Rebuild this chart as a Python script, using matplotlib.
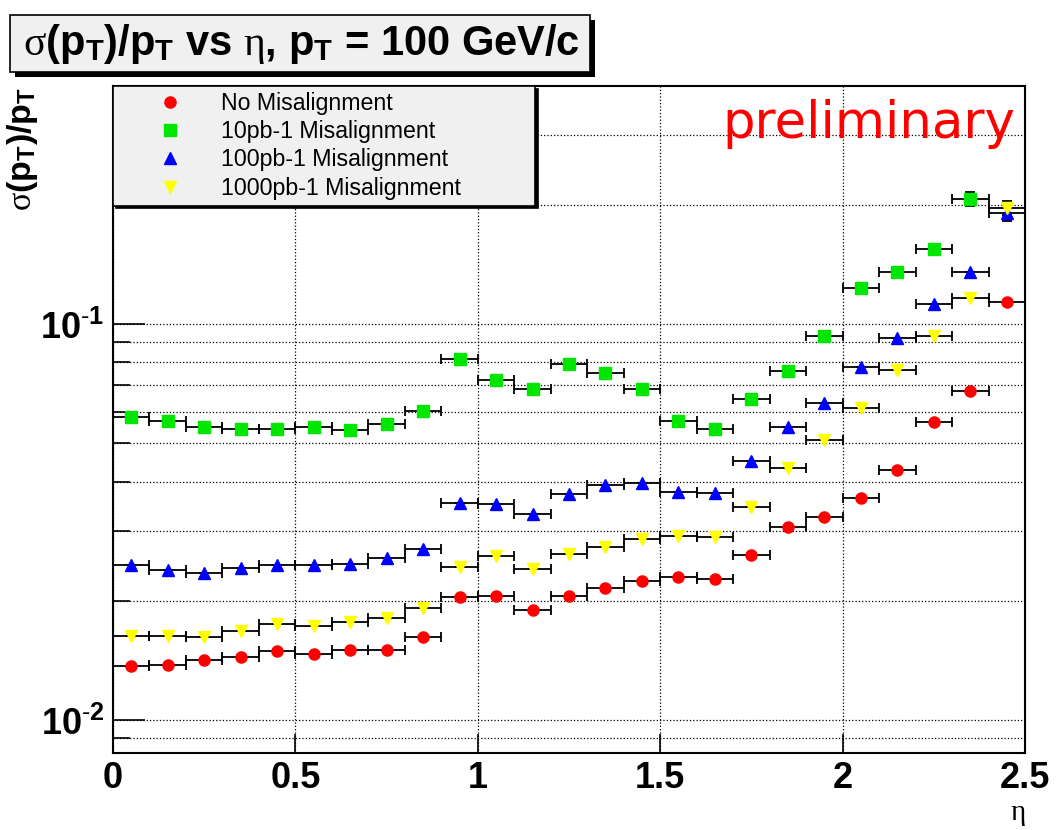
import numpy as np
import matplotlib
matplotlib.use('Agg')
import matplotlib.pyplot as plt
from matplotlib.lines import Line2D
from matplotlib.patches import Rectangle

plt.rcParams['mathtext.fontset'] = 'custom'
plt.rcParams['mathtext.rm'] = 'Liberation Sans'
plt.rcParams['mathtext.bf'] = 'Liberation Sans:bold'
plt.rcParams['mathtext.it'] = 'Liberation Serif'

# bins de eta (largura 0.1)
eta = np.arange(25) * 0.1 + 0.05
eta_err = np.full(25, 0.05)

no_mis = [0.0137, 0.0138, 0.0142, 0.0144, 0.0149, 0.0147, 0.0150, 0.0150, 0.0162,
          0.0204, 0.0206, 0.0189, 0.0205, 0.0215, 0.0224, 0.0230, 0.0227, 0.0261,
          0.0307, 0.0326, 0.0364, 0.0428, 0.0567, 0.0679, 0.1138]
mis_10 = [0.0583, 0.0568, 0.0549, 0.0543, 0.0544, 0.0549, 0.0540, 0.0559, 0.0603,
          0.0815, 0.0720, 0.0684, 0.0794, 0.0753, 0.0684, 0.0569, 0.0544, 0.0645,
          0.0760, 0.0933, 0.1235, 0.1355, 0.1550, 0.2070, np.nan]
mis_100 = [0.0246, 0.0239, 0.0235, 0.0242, 0.0246, 0.0246, 0.0248, 0.0257, 0.0270,
           0.0354, 0.0350, 0.0332, 0.0372, 0.0391, 0.0397, 0.0376, 0.0374, 0.0451,
           0.0548, 0.0633, 0.0780, 0.0920, 0.1122, 0.1350, 0.1910]
mis_1000 = [0.0163, 0.0163, 0.0162, 0.0168, 0.0175, 0.0173, 0.0177, 0.0181, 0.0192,
            0.0244, 0.0260, 0.0240, 0.0262, 0.0273, 0.0286, 0.0292, 0.0289, 0.0344,
            0.0433, 0.0509, 0.0615, 0.0765, 0.0934, 0.1163, 0.1960]

err_no = np.zeros(25)
err_10 = np.zeros(25); err_10[23] = 0.008
err_100 = np.zeros(25); err_100[24] = 0.009
err_1000 = np.zeros(25); err_1000[24] = 0.008

series = [
    ('No Misalignment', no_mis, err_no, 'o', 'red', 8),
    ('10pb-1 Misalignment', mis_10, err_10, 's', '#00e600', 8),
    ('100pb-1 Misalignment', mis_100, err_100, '^', 'blue', 8.5),
    ('1000pb-1 Misalignment', mis_1000, err_1000, 'v', 'yellow', 8),
]

xticks = [0, 0.5, 1, 1.5, 2, 2.5]
xtick_labels = ['0', '0.5', '1', '1.5', '2', '2.5']
yticks = [0.01, 0.1]
ytick_labels = [r'$\mathbf{10^{\text{-}2}}$', r'$\mathbf{10^{\text{-}1}}$']
yminor = [0.009, 0.02, 0.03, 0.04, 0.05, 0.06, 0.07, 0.08, 0.09, 0.2, 0.3]

W, H = 1058, 830
fig = plt.figure(figsize=(W / 100, H / 100), dpi=100)
ax = fig.add_axes([113 / W, (H - 753) / H, (1025 - 113) / W, (753 - 86) / H])

handles = []
for nome, vals, yerr, mk, cor, ms in series:
    ax.errorbar(eta, vals, xerr=eta_err, yerr=yerr, fmt=mk, color=cor, mec=cor,
                ms=ms, ecolor='black', elinewidth=1.3, capsize=3.5, capthick=1.3)
    handles.append(Line2D([], [], ls='none', marker=mk, color=cor, mec=cor, ms=ms))

ax.set_yscale('log')
ax.set_xlim(0, 2.5)
ax.set_ylim(0.00825, 0.399)

ax.set_xticks(xticks, labels=xtick_labels, fontsize=26, fontweight='bold',
              family='Liberation Sans')
ax.set_yticks(yticks, labels=ytick_labels, fontsize=26)
ax.set_yticks(yminor, minor=True)
ax.set_yticklabels([], minor=True)
ax.tick_params(axis='x', which='major', direction='in', length=14, width=1.2, pad=6)
ax.tick_params(axis='y', which='major', direction='in', length=23, width=1.2, pad=6)
ax.tick_params(axis='y', which='minor', direction='in', length=12, width=1.2)

ax.grid(True, axis='y', which='both', ls=':', color='black', lw=0.9)
ax.grid(True, axis='x', which='major', ls=':', color='black', lw=0.9)
for s in ax.spines.values():
    s.set_linewidth(1.5)

leg = ax.legend(handles, [s[0] for s in series], loc='upper left',
                bbox_to_anchor=(0, 1, (535 - 113) / (1025 - 113), 0), mode='expand',
                borderaxespad=0, prop={'family': 'Liberation Sans', 'size': 16.7},
                borderpad=0.25, handlelength=4.4, handletextpad=0.0, labelspacing=0.23,
                fancybox=False, edgecolor='black', facecolor='#f0f0f0', framealpha=1,
                shadow={'color': 'black', 'alpha': 1})
leg.get_frame().set_linewidth(1.2)

# caixa do titulo com sombra
fig.patches.append(Rectangle((15 / W, (H - 77) / H), 580 / W, 57 / H,
                             transform=fig.transFigure, facecolor='black', edgecolor='none'))
fig.patches.append(Rectangle((10 / W, (H - 72) / H), 580 / W, 57 / H,
                             transform=fig.transFigure, facecolor='#f0f0f0',
                             edgecolor='black', lw=1.2))
fig.text(301 / W, (H - 44) / H,
         r'$\sigma$(p$_\mathbf{T}$)/p$_\mathbf{T}$ vs $\eta$, p$_\mathbf{T}$ = 100 GeV/c',
         fontsize=30, fontweight='bold', family='Liberation Sans', ha='center', va='center')

fig.text(22 / W, (H - 87) / H, r'$\sigma$(p$_\mathbf{T}$)/p$_\mathbf{T}$', rotation=90,
         fontsize=24.5, fontweight='bold', family='Liberation Sans', ha='center', va='top')
fig.text(1018 / W, (H - 813) / H, 'η', fontsize=21, family='Liberation Serif',
         ha='center', va='center')
fig.text(722 / W, (H - 138) / H, 'preliminary', fontsize=37, color='red',
         family='DejaVu Sans', ha='left', va='baseline')

fig.savefig('out.png', dpi=100)
